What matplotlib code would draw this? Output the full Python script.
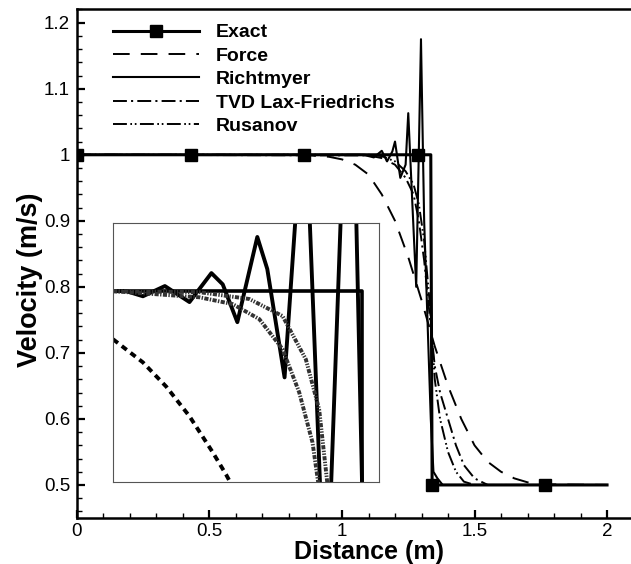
import numpy as np
import matplotlib
matplotlib.use("Agg")
import matplotlib.pyplot as plt
from matplotlib.ticker import MultipleLocator

plt.rcParams['font.family'] = ['Liberation Sans', 'DejaVu Sans']
plt.rcParams['lines.scale_dashes'] = False

# main plot data
exact_x = [0.0, 0.43, 0.855, 1.285, 1.335, 1.34, 1.765, 2.0]
exact_y = [1.0, 1.0, 1.0, 1.0, 1.0, 0.5, 0.5, 0.5]
exact_marks = [0, 1, 2, 3, 5, 6]

force_x = [0.0, 0.85, 0.95, 1.0, 1.05, 1.1, 1.15, 1.2, 1.25, 1.3, 1.35, 1.4,
           1.45, 1.5, 1.55, 1.6, 1.65, 1.7, 1.75, 2.0]
force_y = [1.0, 1.0, 0.997, 0.993, 0.985, 0.97, 0.94, 0.9, 0.845, 0.78, 0.71,
           0.65, 0.6, 0.56, 0.535, 0.52, 0.51, 0.504, 0.501, 0.5]

richt_x = [0.0, 1.0, 1.08, 1.12, 1.15, 1.17, 1.19, 1.2, 1.22, 1.24, 1.25, 1.265,
           1.28, 1.298, 1.31, 1.325, 1.335, 1.345, 1.36, 1.38, 2.0]
richt_y = [1.0, 1.0, 1.0, 0.996, 1.006, 0.99, 1.005, 1.02, 0.965, 0.985, 1.063,
           0.93, 0.8, 1.175, 0.9, 0.72, 0.6, 0.52, 0.51, 0.5, 0.5]

tvd_x = [0.0, 1.1, 1.15, 1.2, 1.24, 1.27, 1.29, 1.31, 1.33, 1.35, 1.37, 1.4,
         1.43, 1.46, 1.5, 1.55, 2.0]
tvd_y = [1.0, 0.999, 0.995, 0.985, 0.965, 0.94, 0.9, 0.84, 0.76, 0.68, 0.64, 0.6,
         0.56, 0.53, 0.51, 0.5, 0.5]

rus_x = tvd_x
rus_y = [1.0, 1.0, 0.998, 0.99, 0.975, 0.955, 0.925, 0.87, 0.78, 0.66, 0.6,
         0.55, 0.52, 0.505, 0.5, 0.5, 0.5]

# inset (zoom near the top of the shock)
in_exact_x = [0.95, 1.325, 1.325]
in_exact_y = [1.0, 1.0, 0.9]

in_force_x = [0.95, 0.995, 1.03, 1.065, 1.10, 1.12, 1.14]
in_force_y = [0.9859, 0.9791, 0.972, 0.9633, 0.9527, 0.9462, 0.939]

in_richt_x = [0.95, 0.97, 0.995, 1.028, 1.065, 1.098, 1.115, 1.137, 1.167,
              1.182, 1.208, 1.238, 1.27, 1.307, 1.335]
in_richt_y = [1.0, 1.0, 0.9985, 1.0015, 0.9968, 1.0053, 1.002, 0.9909, 1.0159,
              1.0065, 0.9747, 1.06, 0.90, 1.10, 0.85]

in_tvd_x = [0.95, 1.08, 1.13, 1.17, 1.205, 1.23, 1.25, 1.265]
in_tvd_y = [1.0, 0.9982, 0.9962, 0.9918, 0.983, 0.9703, 0.9556, 0.935]

in_rus_x = [0.95, 1.08, 1.155, 1.205, 1.24, 1.26, 1.275, 1.28]
in_rus_y = [1.0, 0.9997, 0.9977, 0.9927, 0.98, 0.9653, 0.9389, 0.93]

fig = plt.figure(figsize=(6.31, 5.64), dpi=100)
ax = fig.add_axes([0.122, 0.0816, 0.924, 0.9016])

ax.plot(exact_x, exact_y, color='k', lw=2.2, marker='s', ms=8.5,
        markevery=exact_marks, label='Exact', zorder=5)
ax.plot(force_x, force_y, color='k', lw=1.4, dashes=(12, 8), label='Force')
ax.plot(richt_x, richt_y, color='k', lw=1.5, label='Richtmyer')
ax.plot(tvd_x, tvd_y, color='k', lw=1.4, dashes=(10, 3, 1.5, 3),
        label='TVD Lax-Friedrichs')
ax.plot(rus_x, rus_y, color='k', lw=1.4, dashes=(10, 2.5, 1.2, 2, 1.2, 2.5),
        label='Rusanov')

ax.set_xlim(0, 2.2)
ax.set_ylim(0.45, 1.22)
ax.xaxis.set_minor_locator(MultipleLocator(0.1))
ax.yaxis.set_minor_locator(MultipleLocator(0.02))
ax.set_xticks([0, 0.5, 1, 1.5, 2])
ax.set_xticklabels(['0', '0.5', '1', '1.5', '2'])
ax.set_yticks([0.5, 0.6, 0.7, 0.8, 0.9, 1.0, 1.1, 1.2])
ax.set_yticklabels(['0.5', '0.6', '0.7', '0.8', '0.9', '1', '1.1', '1.2'])
ax.tick_params(which='major', direction='in', length=6, width=1.6,
               labelsize=13.5, pad=5)
ax.tick_params(axis='x', which='major', pad=3.5)
ax.tick_params(which='minor', direction='in', length=3.5, width=1)
for s in ax.spines.values():
    s.set_linewidth(1.8)

ax.set_xlabel('Distance (m)', fontsize=18, fontweight='bold', va='bottom')
ax.xaxis.set_label_coords(0.5, -0.0905)
ax.set_ylabel('Velocity (m/s)', fontsize=19.5, fontweight='bold')
ax.yaxis.set_label_coords(-0.058, 0.468)

leg = ax.legend(loc='upper left', bbox_to_anchor=(0.062, 0.972), frameon=False,
                prop={'weight': 'bold', 'size': 14}, handlelength=4.4,
                handletextpad=0.9, labelspacing=0.3, borderpad=0,
                borderaxespad=0)

# inset
ins = fig.add_axes([113 / 631, 1 - 482 / 564, 266 / 631, 259 / 564])
ins.plot(in_exact_x, in_exact_y, color='k', lw=2.6)
ins.plot(in_force_x, in_force_y, color='k', lw=2.8, dashes=(4.5, 3.5))
ins.plot(in_richt_x, in_richt_y, color='k', lw=2.8)
ins.plot(in_tvd_x, in_tvd_y, color='#333333', lw=2.8, dashes=(3, 1, 1, 1))
ins.plot(in_rus_x, in_rus_y, color='#333333', lw=2.8, dashes=(3, 1, 1, 1, 1, 1))
ins.set_xlim(0.95, 1.35)
ins.set_ylim(0.944, 1.02)
ins.set_xticks([])
ins.set_yticks([])
for s in ins.spines.values():
    s.set_linewidth(0.8)
    s.set_color('#555555')

fig.savefig('out.png', dpi=100)
